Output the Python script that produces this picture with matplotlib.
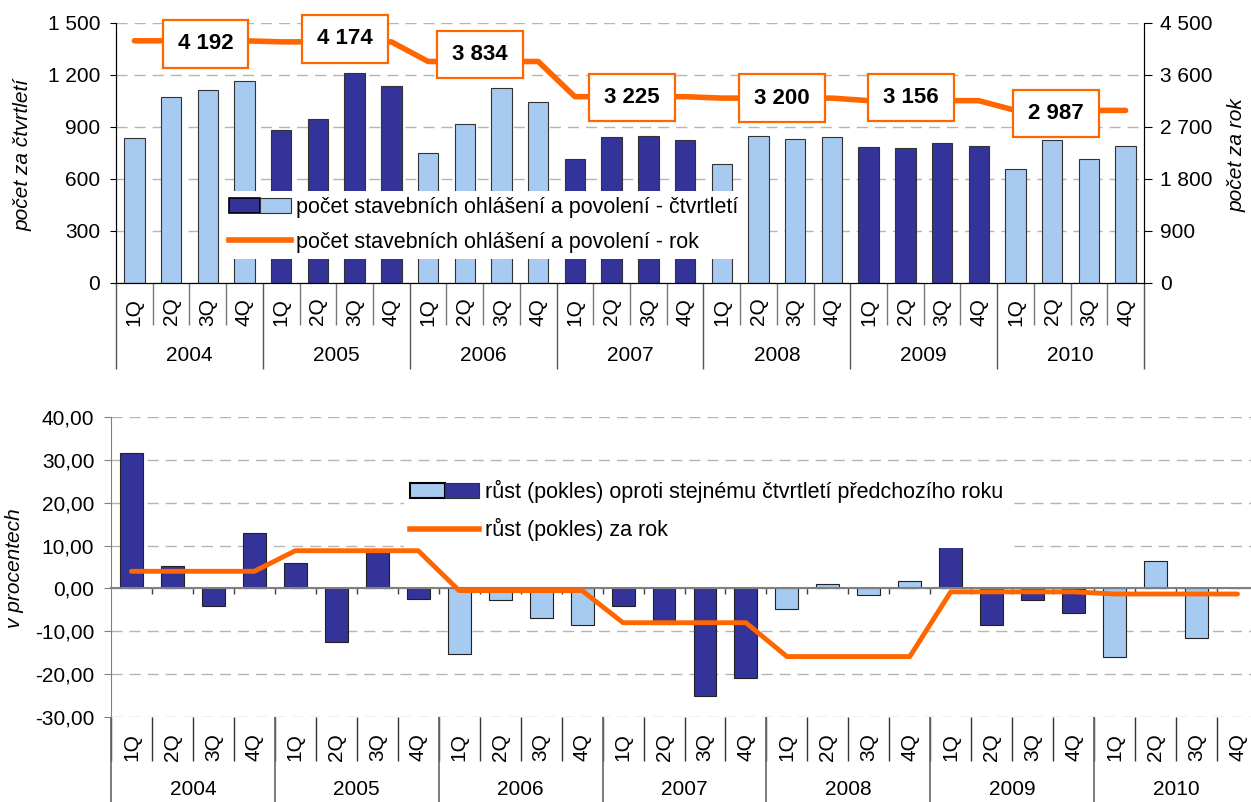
import numpy as np
import matplotlib
matplotlib.use('Agg')
import matplotlib.pyplot as plt
from matplotlib.patches import Patch
from matplotlib.lines import Line2D
from matplotlib.legend_handler import HandlerTuple
from matplotlib.path import Path

plt.rcParams['font.family'] = ['Liberation Sans', 'DejaVu Sans']

# data
roky = ['2004', '2005', '2006', '2007', '2008', '2009', '2010']
ctvrtleti_lbl = ['1Q', '2Q', '3Q', '4Q']
pocet_q = [835, 1075, 1112, 1163, 883, 945, 1210, 1137, 748, 919, 1127, 1043,
           717, 842, 846, 823, 685, 850, 829, 840, 783, 777, 810, 790,
           660, 827, 713, 790]
pocet_rok = [4192, 4174, 3834, 3225, 3200, 3156, 2987]
rust_q = [31.5, 5.3, -4.0, 12.9, 6.0, -12.6, 8.8, -2.5, -15.3, -2.6, -6.9, -8.5,
          -4.2, -8.4, -25.0, -20.9, -4.8, 1.0, -1.5, 1.7, 10.2, -8.5, -2.7, -5.8,
          -15.9, 6.4, -11.6, 0.0]
rust_rok = [4.0, 8.8, -0.5, -8.0, -15.9, -0.8, -1.3]

# styl
TMAVA = '#333399'
SVETLA = '#A6CAF0'
ORANZ = '#FF6600'
barvy_horni = ['s', 't', 's', 't', 's', 't', 's']
barvy_dolni = ['t', 't', 's', 't', 's', 't', 's']
label_dx = [16, 9, -3, 2, 5, -13, -15]   # posun popisku v px
label_dy = [-3, 3, 7, -1, 0, 3, -3]

FS = 15     # popisky os
FS_LEG = 15.5
px = 0.72  # px -> pt


def cz(v):
    return f"{v:,}".replace(",", " ")


def box_popisek(x0, y0, width, height, mutation_size):
    padx = 0.68 * mutation_size
    pady = 0.6 * mutation_size
    x0, y0 = x0 - padx, y0 - pady
    x1, y1 = x0 + width + 2 * padx, y0 + height + 2 * pady
    return Path([(x0, y0), (x1, y0), (x1, y1), (x0, y1), (x0, y0)], closed=True)


def barvy(kody):
    out = []
    for k in kody:
        out += [TMAVA if k == 't' else SVETLA] * 4
    return out


x = np.arange(len(pocet_q))
dash = (0, (8, 5))

fig = plt.figure(figsize=(12.51, 8.02), dpi=100)

# ---------------- horni graf ----------------
ax1 = fig.add_axes([116 / 1251, 1 - 283 / 802, 1028 / 1251, 260 / 802])
ax1.bar(x, pocet_q, width=0.56, color=barvy(barvy_horni), edgecolor='#333333', linewidth=0.8, zorder=2)
ax1.set_xlim(-0.5, 27.5)
ax1.set_ylim(0, 1500)
yt = np.arange(0, 1501, 300)
ax1.set_yticks(yt)
ax1.set_yticklabels([cz(v) for v in yt], fontsize=FS)
ax1.set_axisbelow(True)
ax1.yaxis.grid(True, linestyle=dash, color='#b5b5b5', linewidth=1)
ax1.spines['top'].set_visible(False)
ax1.tick_params(axis='y', length=4.5, pad=7)

# kategorie na ose x
ax1.set_xticks(np.arange(-0.5, 28, 4))
ax1.set_xticks(np.arange(-0.5, 28, 1), minor=True)
ax1.set_xticklabels([])
ax1.tick_params(axis='x', which='major', length=62, color='#555555', width=1)
ax1.tick_params(axis='x', which='minor', length=30, color='#777777', width=1)
tr1 = ax1.get_xaxis_transform()
for i in x:
    ax1.text(i, -0.11, ctvrtleti_lbl[i % 4], rotation=90, ha='center', va='center',
             fontsize=FS, transform=tr1, clip_on=False)
for k, r in enumerate(roky):
    ax1.text(4 * k + 1.5, -0.277, r, ha='center', va='center', fontsize=FS,
             transform=tr1, clip_on=False)

ax2 = ax1.twinx()
ax2.plot(x, np.repeat(pocet_rok, 4), color=ORANZ, linewidth=4, solid_capstyle='round', zorder=3)
ax2.set_ylim(0, 4500)
yt2 = np.arange(0, 4501, 900)
ax2.set_yticks(yt2)
ax2.set_yticklabels([cz(v) for v in yt2], fontsize=FS)
ax2.spines['top'].set_visible(False)
ax2.tick_params(axis='y', length=5.5, pad=6)

for k, v in enumerate(pocet_rok):
    ax2.annotate(cz(v), xy=(4 * k + 1.5, v), xytext=(label_dx[k] * px, label_dy[k] * px),
                 textcoords='offset points', ha='center', va='center', fontsize=16,
                 fontweight='bold', zorder=4,
                 bbox=dict(boxstyle=box_popisek, fc='white', ec=ORANZ, lw=1.6))

h1 = (Patch(facecolor=TMAVA, edgecolor='black', linewidth=1.2),
      Patch(facecolor=SVETLA, edgecolor='#333333', linewidth=0.8))
h2 = Line2D([], [], color=ORANZ, linewidth=4)
leg = ax2.legend([h1, h2], ['počet stavebních ohlášení a povolení - čtvrtletí',
                            'počet stavebních ohlášení a povolení - rok'],
                 handler_map={tuple: HandlerTuple(ndivide=None, pad=0)},
                 loc='upper left', bbox_to_anchor=(223 / 1251, 1 - 191 / 802),
                 bbox_transform=fig.transFigure, fontsize=FS_LEG, frameon=True,
                 fancybox=False, framealpha=1, edgecolor='none', borderpad=0.3,
                 handlelength=2.85, handletextpad=0.25, labelspacing=0.62, borderaxespad=0)
leg.set_zorder(10)

fig.text(23 / 1251, 1 - 155 / 802, 'počet za čtvrtletí', rotation=90, ha='center', va='center',
         fontsize=FS, style='italic')
fig.text(1237 / 1251, 1 - 155 / 802, 'počet za rok', rotation=90, ha='center', va='center',
         fontsize=FS, style='italic')

# ---------------- dolni graf ----------------
ax3 = fig.add_axes([111 / 1251, 1 - 717 / 802, 1147 / 1251, 300 / 802])
ax3.bar(x, rust_q, width=0.56, color=barvy(barvy_dolni), edgecolor='#222222', linewidth=0.8, zorder=2)
ax3.plot(x, np.repeat(rust_rok, 4), color=ORANZ, linewidth=3.5, solid_capstyle='round', zorder=3)
ax3.set_xlim(-0.5, 27.5)
ax3.set_ylim(-30, 40)
yt3 = np.arange(-30, 41, 10)
ax3.set_yticks(yt3)
ax3.set_yticklabels([f"{v:.2f}".replace('.', ',') for v in yt3], fontsize=FS)
ax3.set_axisbelow(True)
ax3.yaxis.grid(True, linestyle=dash, color='#b5b5b5', linewidth=1)
for s in ['top', 'right']:
    ax3.spines[s].set_visible(False)
ax3.spines['left'].set_color('#808080')
ax3.spines['bottom'].set_position(('data', 0))
ax3.spines['bottom'].set_color('#808080')
ax3.spines['bottom'].set_linewidth(1.5)
ax3.tick_params(axis='y', length=5, pad=7, color='#808080')
ax3.set_xticks(np.arange(0.5, 27, 1))
ax3.set_xticklabels([])
ax3.tick_params(axis='x', length=4.5, color='#404040', width=1)

tr3 = ax3.get_xaxis_transform()
hr = np.arange(-0.5, 28, 1)
ax3.vlines(hr, -0.147, 0, transform=tr3, colors='#333333', linewidth=1, clip_on=False)
ax3.vlines(hr[::4], -0.35, 0, transform=tr3, colors='#666666', linewidth=1.2, clip_on=False)
for i in x:
    ax3.text(i, -0.099, ctvrtleti_lbl[i % 4], rotation=90, ha='center', va='center',
             fontsize=FS, transform=tr3, clip_on=False)
for k, r in enumerate(roky):
    ax3.text(4 * k + 1.5, -0.243, r, ha='center', va='center', fontsize=FS,
             transform=tr3, clip_on=False)

h3 = (Patch(facecolor=SVETLA, edgecolor='black', linewidth=1.5),
      Patch(facecolor=TMAVA, edgecolor='#333333', linewidth=0.8))
h4 = Line2D([], [], color=ORANZ, linewidth=4)
leg2 = ax3.legend([h3, h4], ['růst (pokles) oproti stejnému čtvrtletí předchozího roku',
                             'růst (pokles) za rok'],
                  handler_map={tuple: HandlerTuple(ndivide=None, pad=0)},
                  loc='upper left', bbox_to_anchor=(404 / 1251, 1 - 473 / 802),
                  bbox_transform=fig.transFigure, fontsize=FS_LEG, frameon=True,
                  fancybox=False, framealpha=1, edgecolor='none', borderpad=0.3,
                  handlelength=3.2, handletextpad=0.25, labelspacing=0.72, borderaxespad=0)
leg2.set_zorder(10)

fig.text(15 / 1251, 1 - 568 / 802, 'v procentech', rotation=90, ha='center', va='center',
         fontsize=FS, style='italic')

fig.savefig('out.png', dpi=100)
